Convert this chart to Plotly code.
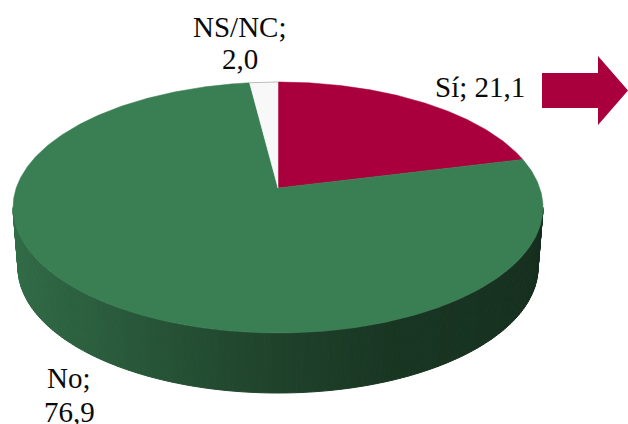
import numpy as np
import plotly.graph_objects as go

# Data
categories = ["Sí", "No", "NS/NC"]
values = [21.1, 76.9, 2.0]
value_labels = ["21,1", "76,9", "2,0"]

# Style
slice_colors = ["#A9003D", "#3A7E53", "#F8F8F8"]
side_stops = [0.0, 0.25, 0.5, 0.65, 1.0]
side_rgb = [(52, 112, 74), (43, 95, 62), (31, 66, 43), (24, 53, 34), (22, 46, 31)]
CX, CY, RX, RY = 278.0, 207.5, 265.0, 125.5
BOTTOM_CY, BOTTOM_RX, BOTTOM_RY = 267.5, 260.0, 125.5
APEX_SHIFT = 0.155  # perspective offset of the pie centre
FONT = dict(family="Liberation Serif, serif", size=29, color="#0A0A0A")


def project(theta):
    """Pie angle (clockwise from 12 o'clock) to the tilted top surface."""
    u, v = np.sin(theta), np.cos(theta)
    d = 1 + APEX_SHIFT * v
    vp = (v + APEX_SHIFT) / d
    up = u * np.sqrt(1 - APEX_SHIFT ** 2) / d
    return CX + RX * up, CY - RY * vp


fig = go.Figure()

# Side wall, drawn as thin bands for the shading
bands = 180
edges = np.linspace(0, np.pi, bands + 1)
for i in range(bands):
    a = np.linspace(edges[i], edges[i + 1], 3)
    tx, ty = CX - RX * np.cos(a), CY + RY * np.sin(a)
    bx, by = CX - BOTTOM_RX * np.cos(a), BOTTOM_CY + BOTTOM_RY * np.sin(a)
    f = (i + 0.5) / bands
    rgb = [np.interp(f, side_stops, [c[k] for c in side_rgb]) for k in range(3)]
    col = f"rgb({rgb[0]:.0f},{rgb[1]:.0f},{rgb[2]:.0f})"
    fig.add_trace(go.Scatter(
        x=np.r_[tx, bx[::-1], tx[0]], y=np.r_[ty, by[::-1], ty[0]],
        mode="lines", fill="toself", fillcolor=col,
        line=dict(color=col, width=1), hoverinfo="skip", showlegend=False))

# Top surface slices, from the values
start = 0.0
total = sum(values)
apex_x, apex_y = CX, CY - RY * APEX_SHIFT
for name, val, col in zip(categories, values, slice_colors):
    end = start + val / total * 2 * np.pi
    th = np.linspace(start, end, max(int(val * 6), 12))
    rx, ry = project(th)
    fig.add_trace(go.Scatter(
        x=np.r_[apex_x, rx, apex_x], y=np.r_[apex_y, ry, apex_y], name=name,
        mode="lines", fill="toself", fillcolor=col,
        line=dict(color=col, width=0.5), hoverinfo="name", showlegend=False))
    if name == "NS/NC":
        fig.add_trace(go.Scatter(x=rx, y=ry, mode="lines",
                                 line=dict(color="#BDBDBD", width=1),
                                 hoverinfo="skip", showlegend=False))
    start = end

# Data labels (each line placed on its own for the tighter line spacing)
label_lines = [
    (f"{categories[0]}; {value_labels[0]}", 480, 87),
    (f"{categories[1]};", 69, 378),
    (value_labels[1], 69, 412),
    (f"{categories[2]};", 239.5, 27),
    (value_labels[2], 239.5, 59),
]
for text, x, y in label_lines:
    fig.add_annotation(x=x, y=y, text=text, showarrow=False,
                       font=FONT, xref="x", yref="y")

# Arrow
fig.add_shape(type="path", xref="x", yref="y",
              path="M542,73 L598,73 L598,56 L628,90.5 L598,125 L598,108 L542,108 Z",
              fillcolor="#A9003D", line=dict(width=0))

fig.update_layout(
    width=628, height=424, margin=dict(l=0, r=0, t=0, b=0),
    paper_bgcolor="white", plot_bgcolor="white", showlegend=False,
    xaxis=dict(range=[0, 628], visible=False, fixedrange=True),
    yaxis=dict(range=[424, 0], visible=False, fixedrange=True),
)
fig.write_html("out.html", config={"displayModeBar": False},
               post_script="document.body.style.margin='0';")
